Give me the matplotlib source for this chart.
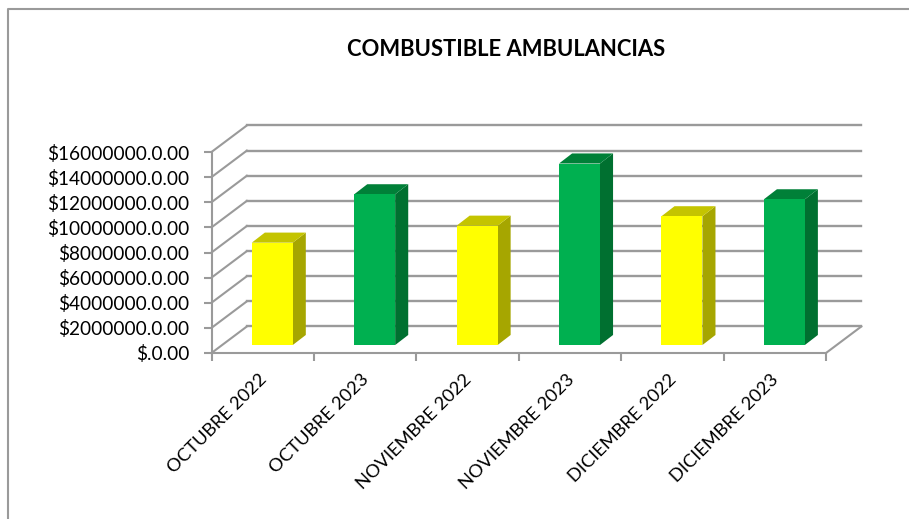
"""
Combustible ambulancias, Excel style 3D columns.
"""

import numpy as np
import matplotlib
matplotlib.use('Agg')
import matplotlib.pyplot as plt
from matplotlib.patches import Polygon, Rectangle

plt.rcParams['font.family'] = ['Lato', 'DejaVu Sans']

categories = ['OCTUBRE 2022', 'OCTUBRE 2023', 'NOVIEMBRE 2022',
              'NOVIEMBRE 2023', 'DICIEMBRE 2022', 'DICIEMBRE 2023']
values = [8150000, 12000000, 9500000, 14450000, 10250000, 11600000]
y_ticks = [0, 2000000, 4000000, 6000000, 8000000,
           10000000, 12000000, 14000000, 16000000]
y_labels = ['$.0.00', '$2000000.0.00', '$4000000.0.00', '$6000000.0.00',
            '$8000000.0.00', '$10000000.0.00', '$12000000.0.00',
            '$14000000.0.00', '$16000000.0.00']
bar_colors = [('#ffff00', '#c4c400', '#a6a600'),
              ('#00b050', '#008038', '#007030')] * 3

W, H = 909, 519
GREY = '#9a9a9a'

# depth of the fake 3D box in data units
depth_x = 0.345
depth_y = 2110000.
bar_width = 0.40
bar_front_x = 0.27  # how far back the front of the bars sits
bar_front_y = 0.30
bar_depth_x = 0.37
bar_depth_y = 0.38

fig = plt.figure(figsize=(W/100, H/100), dpi=100)
ax = fig.add_axes([211.5/W, 1-353/H, 614.5/W, 201/H])
ax.set_xlim(0, 6)
ax.set_ylim(0, 16000000)
ax.patch.set_visible(False)

for s in ['top', 'right']:
    ax.spines[s].set_visible(False)
for s in ['left', 'bottom']:
    ax.spines[s].set_color(GREY)
    ax.spines[s].set_linewidth(1.5)

# walls and floor
for v in y_ticks:
    ax.plot([0, depth_x], [v, v+depth_y], color=GREY, lw=1.5, clip_on=False, zorder=1)
    ax.plot([depth_x, 6+depth_x], [v+depth_y, v+depth_y], color=GREY, lw=1.7,
            clip_on=False, zorder=1)
ax.plot([6, 6+depth_x], [0, depth_y], color=GREY, lw=1.5, clip_on=False, zorder=1)

# columns: front face, top and side
for i, (val, cols) in enumerate(zip(values, bar_colors)):
    x0 = i+0.5-bar_width/2
    x1 = x0+bar_width
    ox = bar_front_x*depth_x
    oy = bar_front_y*depth_y
    dx = bar_depth_x*depth_x
    dy = bar_depth_y*depth_y
    ax.add_patch(Polygon([(x1+ox, oy), (x1+ox+dx, oy+dy), (x1+ox+dx, oy+dy+val),
                          (x1+ox, oy+val)], fc=cols[2], ec='none', clip_on=False, zorder=3))
    ax.add_patch(Polygon([(x0+ox, oy+val), (x1+ox, oy+val), (x1+ox+dx, oy+dy+val),
                          (x0+ox+dx, oy+dy+val)], fc=cols[1], ec='none', clip_on=False, zorder=3))
    ax.add_patch(Rectangle((x0+ox, oy), bar_width, val, fc=cols[0], ec='none',
                           clip_on=False, zorder=4))

ax.set_yticks(y_ticks)
ax.set_yticklabels(y_labels, fontsize=13.7, color='black')
ax.tick_params(axis='y', length=6, width=1.5, color=GREY, pad=10)

ax.set_xticks(np.arange(0, 7))
ax.set_xticklabels([])
ax.tick_params(axis='x', which='major', length=6, width=1.5, color=GREY)
# label anchors sit a little left of the middle of each category
ax.set_xticks(np.arange(len(categories))+0.46, minor=True)
ax.set_xticklabels(categories, minor=True, rotation=45, ha='right', va='top',
                   rotation_mode='anchor', fontsize=13.2, color='black')
ax.tick_params(axis='x', which='minor', length=0, pad=13)

fig.text(506/W, 1-49.5/H, 'COMBUSTIBLE AMBULANCIAS', ha='center', va='center',
         fontsize=15.8, fontweight='bold', color='black')

# chart frame, cut off on the right and at the bottom of the picture
fig.add_artist(plt.Line2D([8/W, 8/W, 1], [0, 1-9/H, 1-9/H], color=GREY, lw=1.5))

fig.savefig('out.png', dpi=100)
